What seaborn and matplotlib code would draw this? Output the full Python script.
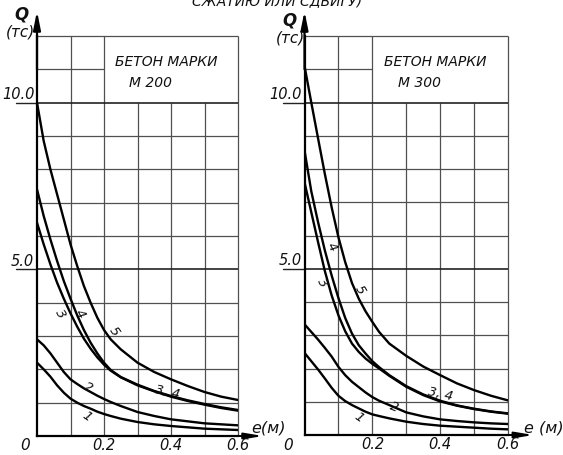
import matplotlib
matplotlib.use("Agg")
import matplotlib.pyplot as plt
import pandas as pd
import seaborn as sns

sns.set_theme(style="white")
plt.rcParams['font.family'] = ['Liberation Sans Narrow', 'DejaVu Sans']

# ---------------- data ----------------
e_pts = [0, 0.02, 0.04, 0.06, 0.08, 0.10, 0.12, 0.14, 0.16, 0.18, 0.20,
         0.22, 0.25, 0.30, 0.35, 0.40, 0.45, 0.50, 0.55, 0.60]

# concrete grade M 200
m200_c1 = [2.2, 2.0, 1.78, 1.52, 1.3, 1.12, 1.0, 0.9, 0.82, 0.73, 0.66,
           0.6, 0.52, 0.42, 0.35, 0.30, 0.26, 0.22, 0.20, 0.18]
m200_c2 = [2.9, 2.72, 2.48, 2.2, 1.92, 1.7, 1.56, 1.43, 1.32, 1.21, 1.11,
           1.02, 0.9, 0.72, 0.6, 0.5, 0.44, 0.38, 0.35, 0.32]
m200_c3 = [6.4, 5.75, 5.15, 4.6, 4.12, 3.68, 3.28, 2.92, 2.62, 2.36, 2.14,
           1.96, 1.76, 1.52, 1.34, 1.18, 1.05, 0.94, 0.84, 0.76]
m200_c4 = [7.4, 6.6, 5.9, 5.25, 4.65, 4.12, 3.62, 3.18, 2.8, 2.48, 2.2,
           1.98, 1.77, 1.54, 1.35, 1.2, 1.07, 0.96, 0.86, 0.78]
m200_c5 = [10.0, 8.85, 8.0, 7.25, 6.5, 5.75, 5.1, 4.5, 4.0, 3.55, 3.18,
           2.9, 2.6, 2.2, 1.92, 1.7, 1.5, 1.32, 1.18, 1.08]

# concrete grade M 300
m300_c1 = [2.47, 2.22, 1.97, 1.7, 1.42, 1.18, 1.02, 0.9, 0.8, 0.7, 0.62,
           0.57, 0.5, 0.4, 0.33, 0.28, 0.25, 0.22, 0.19, 0.17]
m300_c2 = [3.33, 3.1, 2.87, 2.62, 2.36, 2.05, 1.8, 1.6, 1.44, 1.28, 1.14,
           1.03, 0.9, 0.68, 0.56, 0.47, 0.42, 0.38, 0.35, 0.33]
m300_c3 = [7.6, 6.7, 5.8, 4.93, 4.2, 3.6, 3.12, 2.75, 2.5, 2.3, 2.14,
           2.0, 1.78, 1.45, 1.2, 1.01, 0.88, 0.78, 0.7, 0.64]
m300_c4 = [8.56, 7.33, 6.4, 5.55, 4.8, 4.12, 3.52, 3.05, 2.7, 2.45, 2.22,
           2.04, 1.8, 1.47, 1.22, 1.03, 0.89, 0.79, 0.71, 0.65]
m300_c5 = [11.1, 10.0, 8.92, 7.85, 6.85, 5.95, 5.2, 4.57, 4.1, 3.72, 3.4,
           3.1, 2.75, 2.38, 2.06, 1.8, 1.55, 1.35, 1.18, 1.04]

curve_names = ["1", "2", "3", "4", "5"]
grades = ["М 200", "М 300"]
x_tick_vals = [0.2, 0.4, 0.6]
x_tick_labels = ["0.2", "0.4", "0.6"]
y_tick_vals = [5, 10]
y_tick_labels = ["5.0", "10.0"]
box_title = "БЕТОН МАРКИ"

# curve label texts (text, e, Q, rotation)
labels_m200 = [("1", 0.149, 0.62, -35), ("2", 0.152, 1.47, -25),
               ("3", 0.069, 3.7, -60), ("4", 0.128, 3.68, -60),
               ("5", 0.229, 3.18, -55), ("3, 4", 0.39, 1.35, -12)]
labels_m300 = [("1", 0.16, 0.55, -35), ("2", 0.265, 0.86, -20),
               ("3", 0.053, 4.6, -60), ("4", 0.082, 5.7, -60),
               ("5", 0.162, 4.4, -60), ("3, 4", 0.40, 1.27, -12)]


def make_df(curves):
    rows = []
    for name, qs in zip(curve_names, curves):
        for e, q in zip(e_pts, qs):
            rows.append({"e": e, "Q": q, "curve": name})
    return pd.DataFrame(rows)


df200 = make_df([m200_c1, m200_c2, m200_c3, m200_c4, m200_c5])
df300 = make_df([m300_c1, m300_c2, m300_c3, m300_c4, m300_c5])

W, H = 563, 456
fig = plt.figure(figsize=(W / 100, H / 100), dpi=100)
fig.patch.set_facecolor("white")


def fx(px):
    return px / W


def fy(py):
    return 1 - py / H


axL = fig.add_axes([fx(37), fy(437), 201 / W, 400 / H])
axR = fig.add_axes([fx(304.5), fy(436), 203.5 / W, 399 / H])

txt_kw = dict(style="italic", color="#111111")
grid_c = "#505050"

for ax, df, grade, labels in [(axL, df200, grades[0], labels_m200),
                              (axR, df300, grades[1], labels_m300)]:
    ax.set_facecolor("white")
    ax.set_xlim(0, 0.6)
    ax.set_ylim(0, 12)
    ax.set_xticks([])
    ax.set_yticks([])
    for s in ["top", "right"]:
        ax.spines[s].set_visible(False)
    for s in ["left", "bottom"]:
        ax.spines[s].set_color("black")
        ax.spines[s].set_linewidth(1.6)

    # grid
    ax.vlines([0.1, 0.2], 0, 12, color=grid_c, lw=0.9, zorder=1)
    ax.vlines([0.3, 0.4, 0.5], 0, 10, color=grid_c, lw=0.9, zorder=1)
    ax.vlines([0.6], 0, 12, color=grid_c, lw=0.9, zorder=1, clip_on=False)
    ax.hlines([1, 2, 3, 4, 6, 7, 8, 9], 0, 0.6, color=grid_c, lw=0.9, zorder=1)
    ax.hlines([5, 10], 0, 0.6, color="#222222", lw=1.2, zorder=1)
    ax.hlines([11], 0, 0.2, color=grid_c, lw=0.9, zorder=1)
    ax.hlines([12], 0, 0.6, color=grid_c, lw=0.9, zorder=1, clip_on=False)
    # underlines of the y labels
    ax.plot([-0.062, 0], [10, 10], color="#222222", lw=1.0, clip_on=False)
    ax.plot([-0.062, 0], [5, 5], color="#222222", lw=1.0, clip_on=False)

    # axis arrows
    ax.annotate("", xy=(0, 12.75), xytext=(0, 11.0), annotation_clip=False,
                arrowprops=dict(arrowstyle="-|>,head_length=0.9,head_width=0.18",
                                color="black", lw=1.6, shrinkA=0, shrinkB=0))
    ax.annotate("", xy=(0.675, 0), xytext=(0.55, 0), annotation_clip=False,
                arrowprops=dict(arrowstyle="-|>,head_length=0.9,head_width=0.15",
                                color="black", lw=1.4, shrinkA=0, shrinkB=0))

    # curves
    sns.lineplot(data=df, x="e", y="Q", hue="curve", palette=["black"] * 5,
                 legend=False, estimator=None, sort=False, lw=1.7, ax=ax,
                 zorder=3)
    ax.set_xlabel("")
    ax.set_ylabel("")

    # box text
    ax.text(0.385, 11.25, box_title, ha="center", va="center", fontsize=10, **txt_kw)
    ax.text(0.34, 10.62, grade, ha="center", va="center", fontsize=10, **txt_kw)

    # curve labels
    for t, e, q, rot in labels:
        ax.text(e, q, t, ha="center", va="center", rotation=rot, fontsize=9.5,
                zorder=4, **txt_kw)

    # tick labels
    for v, lab in zip(x_tick_vals, x_tick_labels):
        ax.text(v, -0.27, lab, ha="center", va="center", fontsize=10.5, **txt_kw)
    for v, lab in zip(y_tick_vals, y_tick_labels):
        ax.text(-0.008, v + 0.05, lab, ha="right", va="bottom", fontsize=10.5,
                **txt_kw)

# axis titles and origin labels
fig.text(fx(21), fy(15), "Q", ha="center", va="center", fontsize=12,
         weight="bold", **txt_kw)
fig.text(fx(20), fy(32), "(тс)", ha="center", va="center", fontsize=11, **txt_kw)
fig.text(fx(289), fy(20), "Q", ha="center", va="center", fontsize=12,
         weight="bold", **txt_kw)
fig.text(fx(290), fy(38), "(тс)", ha="center", va="center", fontsize=11, **txt_kw)
fig.text(fx(25), fy(446), "0", ha="center", va="center", fontsize=11, **txt_kw)
fig.text(fx(288), fy(446), "0", ha="center", va="center", fontsize=11, **txt_kw)
fig.text(fx(269), fy(428), "e(м)", ha="center", va="center", fontsize=11.5, **txt_kw)
fig.text(fx(544), fy(428), "e (м)", ha="center", va="center", fontsize=11.5, **txt_kw)
fig.text(fx(277), fy(5), "СЖАТИЮ ИЛИ СДВИГУ)", ha="center", va="baseline",
         fontsize=10, **txt_kw)

fig.savefig("out.png", dpi=100, facecolor="white")
